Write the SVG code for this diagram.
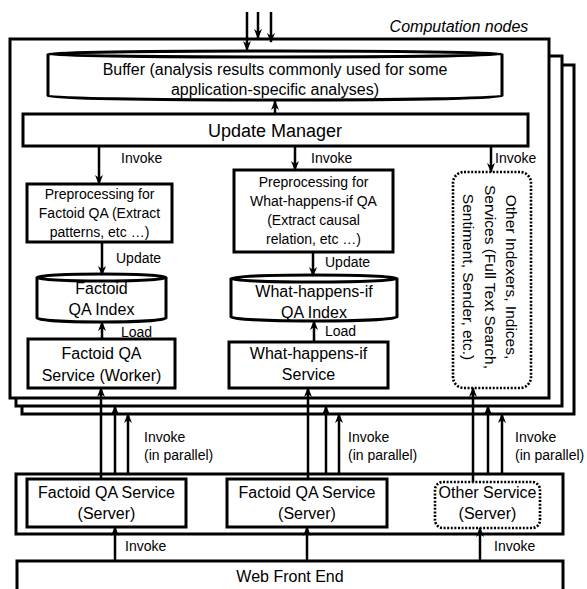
<svg xmlns="http://www.w3.org/2000/svg" width="587" height="589" viewBox="0 0 587 589">
<style>
text{font-family:"Liberation Sans",Arial,sans-serif;fill:#000}
.box{fill:#fff;stroke:#000;stroke-width:3}
.dot{fill:#fff;stroke:#000;stroke-width:2.6;stroke-dasharray:2 1.6}
.t16{font-size:16px;text-anchor:middle}
.t14{font-size:14px;text-anchor:middle}
.lbl{font-size:14px}
.arr{stroke:#000;stroke-width:2.5;fill:none;marker-end:url(#ah)}
</style>
<defs>
<marker id="ah" viewBox="0 0 10 10" refX="9" refY="5" markerWidth="10" markerHeight="10" markerUnits="userSpaceOnUse" orient="auto">
<path d="M0,1 L10,5 L0,9 L3,5 z" fill="#000"/>
</marker>
</defs>
<rect x="0" y="0" width="587" height="589" fill="#fff"/>

<g id="computation-nodes">
<rect class="box" x="22" y="65" width="552" height="349"/>
<rect class="box" x="16" y="56" width="546" height="350"/>
<rect class="box" x="10" y="39" width="539" height="359"/>
<text x="459" y="32" style="font-size:16px;font-style:italic;text-anchor:middle">Computation nodes</text>
</g>

<g id="buffer">
<path class="box" d="M48,54 L48,96 A227,4 0 0 0 502,96 L502,54"/>
<ellipse class="box" cx="275" cy="54" rx="227" ry="3"/>
<text class="t16" x="275" y="75">Buffer (analysis results commonly used for some</text>
<text class="t16" x="275" y="95">application-specific analyses)</text>
</g>

<g id="update-manager">
<rect class="box" x="23" y="114" width="505" height="32"/>
<text x="275" y="137" style="font-size:18px;text-anchor:middle">Update Manager</text>
</g>

<g id="preproc-factoid">
<rect class="box" x="27" y="184" width="145" height="58"/>
<text class="t14" x="99.5" y="199">Preprocessing for</text>
<text class="t14" x="99.5" y="218">Factoid QA (Extract</text>
<text class="t14" x="99.5" y="237">patterns, etc …)</text>
</g>

<g id="preproc-whathappens">
<rect class="box" x="234" y="170" width="159" height="82"/>
<text class="t14" x="313.5" y="187">Preprocessing for</text>
<text class="t14" x="313.5" y="206">What-happens-if QA</text>
<text class="t14" x="313.5" y="225">(Extract causal</text>
<text class="t14" x="313.5" y="244">relation, etc …)</text>
</g>

<g id="factoid-index">
<path class="box" d="M37,277.5 L37,318 A64.5,4 0 0 0 166,318 L166,277.5"/>
<ellipse class="box" cx="101.5" cy="277.5" rx="64.5" ry="3.5"/>
<text class="t16" x="101.5" y="294">Factoid</text>
<text class="t16" x="101.5" y="315">QA Index</text>
</g>

<g id="whathappens-index">
<path class="box" d="M231,278.5 L231,317 A83,4 0 0 0 397,317 L397,278.5"/>
<ellipse class="box" cx="314" cy="278.5" rx="83" ry="3.5"/>
<text class="t16" x="314" y="297">What-happens-if</text>
<text class="t16" x="314" y="318">QA Index</text>
</g>

<g id="factoid-worker">
<rect class="box" x="28" y="339" width="147" height="49"/>
<text class="t16" x="101.5" y="359">Factoid QA</text>
<text class="t16" x="101.5" y="381">Service (Worker)</text>
</g>

<g id="whathappens-service">
<rect class="box" x="229" y="342" width="159" height="46"/>
<text class="t16" x="308.5" y="359">What-happens-if</text>
<text class="t16" x="308.5" y="380">Service</text>
</g>

<g id="other-indexers">
<rect class="dot" x="453" y="172" width="78" height="216" rx="11" ry="11"/>
<text transform="translate(506,277) rotate(90)" style="font-size:15.5px;text-anchor:middle">Other Indexers, Indices,<tspan x="0" dy="21.5">Services (Full Text Search,</tspan><tspan x="0" dy="21.5">Sentiment, Sender, etc.)</tspan></text>
</g>

<g id="server-group">
<rect class="box" x="16" y="474" width="547" height="60"/>
</g>

<g id="factoid-server-1">
<rect class="box" x="27" y="479" width="159" height="48"/>
<text class="t16" x="106.5" y="498">Factoid QA Service</text>
<text class="t16" x="106.5" y="519">(Server)</text>
</g>

<g id="factoid-server-2">
<rect class="box" x="227" y="479" width="160" height="48"/>
<text class="t16" x="307" y="498">Factoid QA Service</text>
<text class="t16" x="307" y="519">(Server)</text>
</g>

<g id="other-server">
<rect class="dot" x="435" y="482" width="105" height="46" rx="8" ry="8"/>
<text class="t16" x="487.5" y="498">Other Service</text>
<text class="t16" x="487.5" y="519">(Server)</text>
</g>

<g id="web-front-end">
<rect class="box" x="17" y="561" width="546" height="40"/>
<text class="t16" x="290" y="582">Web Front End</text>
</g>

<g id="connectors">
<line class="arr" x1="247" y1="12" x2="247" y2="50"/>
<line class="arr" x1="258" y1="12" x2="258" y2="38"/>
<line class="arr" x1="271" y1="12" x2="271" y2="42"/>
<line class="arr" x1="275" y1="114" x2="275" y2="101"/>
<line class="arr" x1="99" y1="146" x2="99" y2="184"/>
<line class="arr" x1="295" y1="146" x2="295" y2="170"/>
<line class="arr" x1="491" y1="146" x2="491" y2="172"/>
<line class="arr" x1="102" y1="242" x2="102" y2="275"/>
<line class="arr" x1="313" y1="252" x2="313" y2="276"/>
<line class="arr" x1="102" y1="339" x2="102" y2="322"/>
<line class="arr" x1="314" y1="342" x2="314" y2="321"/>
<line class="arr" x1="101" y1="479" x2="101" y2="388"/>
<line class="arr" x1="115" y1="474" x2="115" y2="406"/>
<line class="arr" x1="128" y1="474" x2="128" y2="414"/>
<line class="arr" x1="308" y1="479" x2="308" y2="388"/>
<line class="arr" x1="326" y1="474" x2="326" y2="406"/>
<line class="arr" x1="339" y1="474" x2="339" y2="414"/>
<line class="arr" x1="473" y1="482" x2="473" y2="388"/>
<line class="arr" x1="488" y1="474" x2="488" y2="406"/>
<line class="arr" x1="502" y1="474" x2="502" y2="414"/>
<line class="arr" x1="115" y1="561" x2="115" y2="527"/>
<line class="arr" x1="307" y1="561" x2="307" y2="527"/>
<line class="arr" x1="480" y1="561" x2="480" y2="528"/>
<text class="lbl" x="121" y="163">Invoke</text>
<text class="lbl" x="311" y="163">Invoke</text>
<text class="lbl" x="495" y="163">Invoke</text>
<text class="lbl" x="116" y="263">Update</text>
<text class="lbl" x="325" y="267">Update</text>
<text class="lbl" x="121" y="337">Load</text>
<text class="lbl" x="325" y="336">Load</text>
<text class="lbl" x="144" y="442">Invoke</text>
<text class="lbl" x="144" y="460">(in parallel)</text>
<text class="lbl" x="348" y="442">Invoke</text>
<text class="lbl" x="348" y="460">(in parallel)</text>
<text class="lbl" x="515" y="442">Invoke</text>
<text class="lbl" x="515" y="460">(in parallel)</text>
<text class="lbl" x="125" y="551">Invoke</text>
<text class="lbl" x="494" y="551">Invoke</text>
</g>
</svg>
